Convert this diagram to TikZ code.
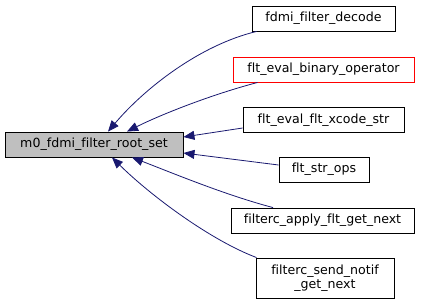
\documentclass[tikz,border=0pt]{standalone}
\usepackage{fontspec}
\setmainfont{DejaVu Sans}[Ligatures=NoCommon]
\usetikzlibrary{arrows.meta,calc}
\definecolor{edgeblue}{HTML}{191970}
\definecolor{rootgrey}{HTML}{BFBFBF}
\begin{document}
\begin{tikzpicture}[x=1pt,y=-1pt,
  fn/.style={draw=black,line width=0.9pt,fill=white,inner sep=0pt,
    minimum height=25pt,align=center,font=\fontsize{12.6}{14.5}\selectfont},
  edge/.style={draw=edgeblue,line width=0.8pt,
    -{Triangle[length=11pt,width=9pt]}}]
\useasboundingbox (0,0) rectangle (423,306);

% callee and its callers
\node[fn,fill=rootgrey,minimum width=178pt] (root) at (94,144.5) {m0\_fdmi\_filter\_root\_set};
\node[fn,minimum width=143pt] (dec) at (323.5,18.5) {fdmi\_filter\_decode};
\node[fn,draw=red,minimum width=181pt] (bin) at (323.5,69.5) {flt\_eval\_binary\_operator};
\node[fn,minimum width=161pt] (xcode) at (323.5,120) {flt\_eval\_flt\_xcode\_str};
\node[fn,minimum width=90pt] (strops) at (324,169.5) {flt\_str\_ops};
\node[fn,minimum width=183pt] (apply) at (322.5,220.5) {filterc\_apply\_flt\_get\_next};
\node[fn,minimum width=138pt,minimum height=40pt] (notif) at (325,278) {filterc\_send\_notif\\\_get\_next};

% call edges, arrowheads on the callee
\draw[edge] ($(dec.south west)+(5,0)$) .. controls (200,45) and (145,88) .. ($(root.north)+(14,0)$);
\draw[edge] ($(bin.south west)+(25,0)$) .. controls (210,95) and (160,115) .. ($(root.north)+(33,0)$);
\draw[edge] ($(xcode.west)+(0,8)$) -- ($(root.east)+(0,-7.5)$);
\draw[edge] ($(strops.west)+(0,-4.5)$) -- ($(root.east)+(0,8.5)$);
\draw[edge] ($(apply.north)+(-49.5,0)$) .. controls (225,195) and (170,172) .. ($(root.south)+(38,0)$);
\draw[edge] ($(notif.north west)+(1,0)$) .. controls (210,240) and (150,195) .. ($(root.south)+(18,0)$);
\end{tikzpicture}
\end{document}
